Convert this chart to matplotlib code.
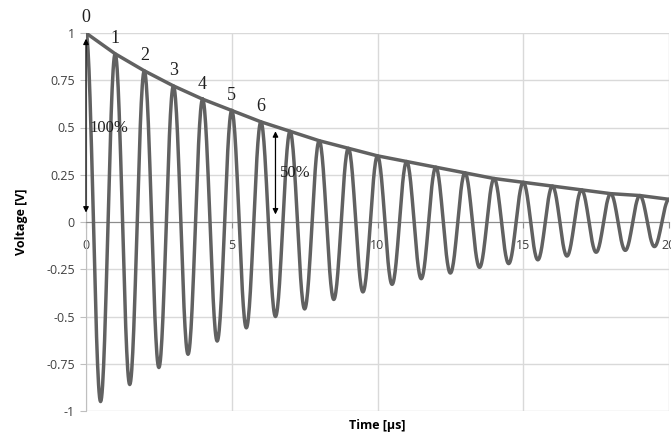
import numpy as np
import matplotlib.pyplot as plt

# peak values (at t = 0, 1, 2, ... 20 us)
peak_t = np.arange(0, 21)
peak_v = [1.0, 0.89, 0.80, 0.72, 0.65, 0.59, 0.53, 0.48, 0.43, 0.39, 0.35,
          0.32, 0.29, 0.26, 0.23, 0.21, 0.19, 0.17, 0.15, 0.14, 0.12]
# trough values (at t = 0.5, 1.5, ... 19.5 us)
trough_t = np.arange(0.5, 20, 1.0)
trough_v = [-0.95, -0.86, -0.77, -0.70, -0.63, -0.56, -0.50, -0.46, -0.41, -0.37,
            -0.33, -0.30, -0.27, -0.24, -0.22, -0.20, -0.18, -0.16, -0.15, -0.13]

peak_labels = ['0', '1', '2', '3', '4', '5', '6']
xticks = [0, 5, 10, 15, 20]
yticks = [-1, -0.75, -0.5, -0.25, 0, 0.25, 0.5, 0.75, 1]
ytick_labels = ['-1', '-0.75', '-0.5', '-0.25', '0', '0.25', '0.5', '0.75', '1']

# join the extremes in order, each pair by a half cosine
ext_t = np.empty(len(peak_t) + len(trough_t))
ext_v = np.empty_like(ext_t)
ext_t[0::2], ext_t[1::2] = peak_t, trough_t
ext_v[0::2], ext_v[1::2] = peak_v, trough_v
wave_t, wave_v = [], []
s = np.linspace(0, 1, 30)
for a_t, b_t, a, b in zip(ext_t[:-1], ext_t[1:], ext_v[:-1], ext_v[1:]):
    wave_t.extend(a_t + (b_t - a_t) * s)
    wave_v.extend((a + b) / 2 + (a - b) / 2 * np.cos(np.pi * s))

fig = plt.figure(figsize=(6.71, 4.34), dpi=100)
ax = fig.add_axes([86 / 671, 23 / 434, 583 / 671, 378 / 434])

grey = '#616161'
ax.plot(wave_t, wave_v, color=grey, lw=2.5, solid_capstyle='round', zorder=3)
ax.plot(peak_t, peak_v, color=grey, lw=2.5, zorder=3)

ax.set_xlim(0, 20)
ax.set_ylim(-1, 1)
ax.set_xticks(xticks)
ax.set_yticks(yticks)
ax.set_yticklabels(ytick_labels)
ax.grid(True, color='#d9d9d9', lw=1)
ax.set_axisbelow(True)

for side in ['top', 'right']:
    ax.spines[side].set_visible(False)
ax.spines['bottom'].set_position(('data', 0))
ax.spines['bottom'].set_color('#8c8c8c')
ax.spines['left'].set_color('#bfbfbf')
ax.tick_params(axis='x', length=4, colors='#404040', labelsize=9, pad=8, color='#8c8c8c')
ax.tick_params(axis='y', length=4, colors='#404040', labelsize=9, pad=4, color='#bfbfbf')
for lab in ax.get_xticklabels() + ax.get_yticklabels():
    lab.set_fontfamily('Open Sans')

ax.set_xlabel('Time [µs]', fontfamily='Open Sans', fontweight='bold', fontsize=9)
ax.xaxis.set_label_coords(0.5, -0.02)
ax.set_ylabel('Voltage [V]', fontfamily='Open Sans', fontweight='bold', fontsize=9)
ax.yaxis.set_label_coords(-0.1, 0.5)

for i, lab in enumerate(peak_labels):
    ax.text(peak_t[i], peak_v[i] + 0.08, lab, fontfamily='Liberation Serif',
            fontsize=13, ha='center', va='center', color='#202020', clip_on=False)

arrow = dict(arrowstyle='<|-|>', color='black', lw=0.9, mutation_scale=8,
             shrinkA=0, shrinkB=0)
ax.annotate('', xy=(0, 0.97), xytext=(0, 0.05), arrowprops=arrow, zorder=4)
ax.annotate('', xy=(6.5, 0.48), xytext=(6.5, 0.04), arrowprops=arrow, zorder=4)
ax.text(0.12, 0.5, '100%', fontfamily='Liberation Serif', fontsize=12,
        va='center', color='#202020')
ax.text(6.65, 0.26, '50%', fontfamily='Liberation Serif', fontsize=12,
        va='center', color='#202020')

fig.savefig('out.png', dpi=100)
